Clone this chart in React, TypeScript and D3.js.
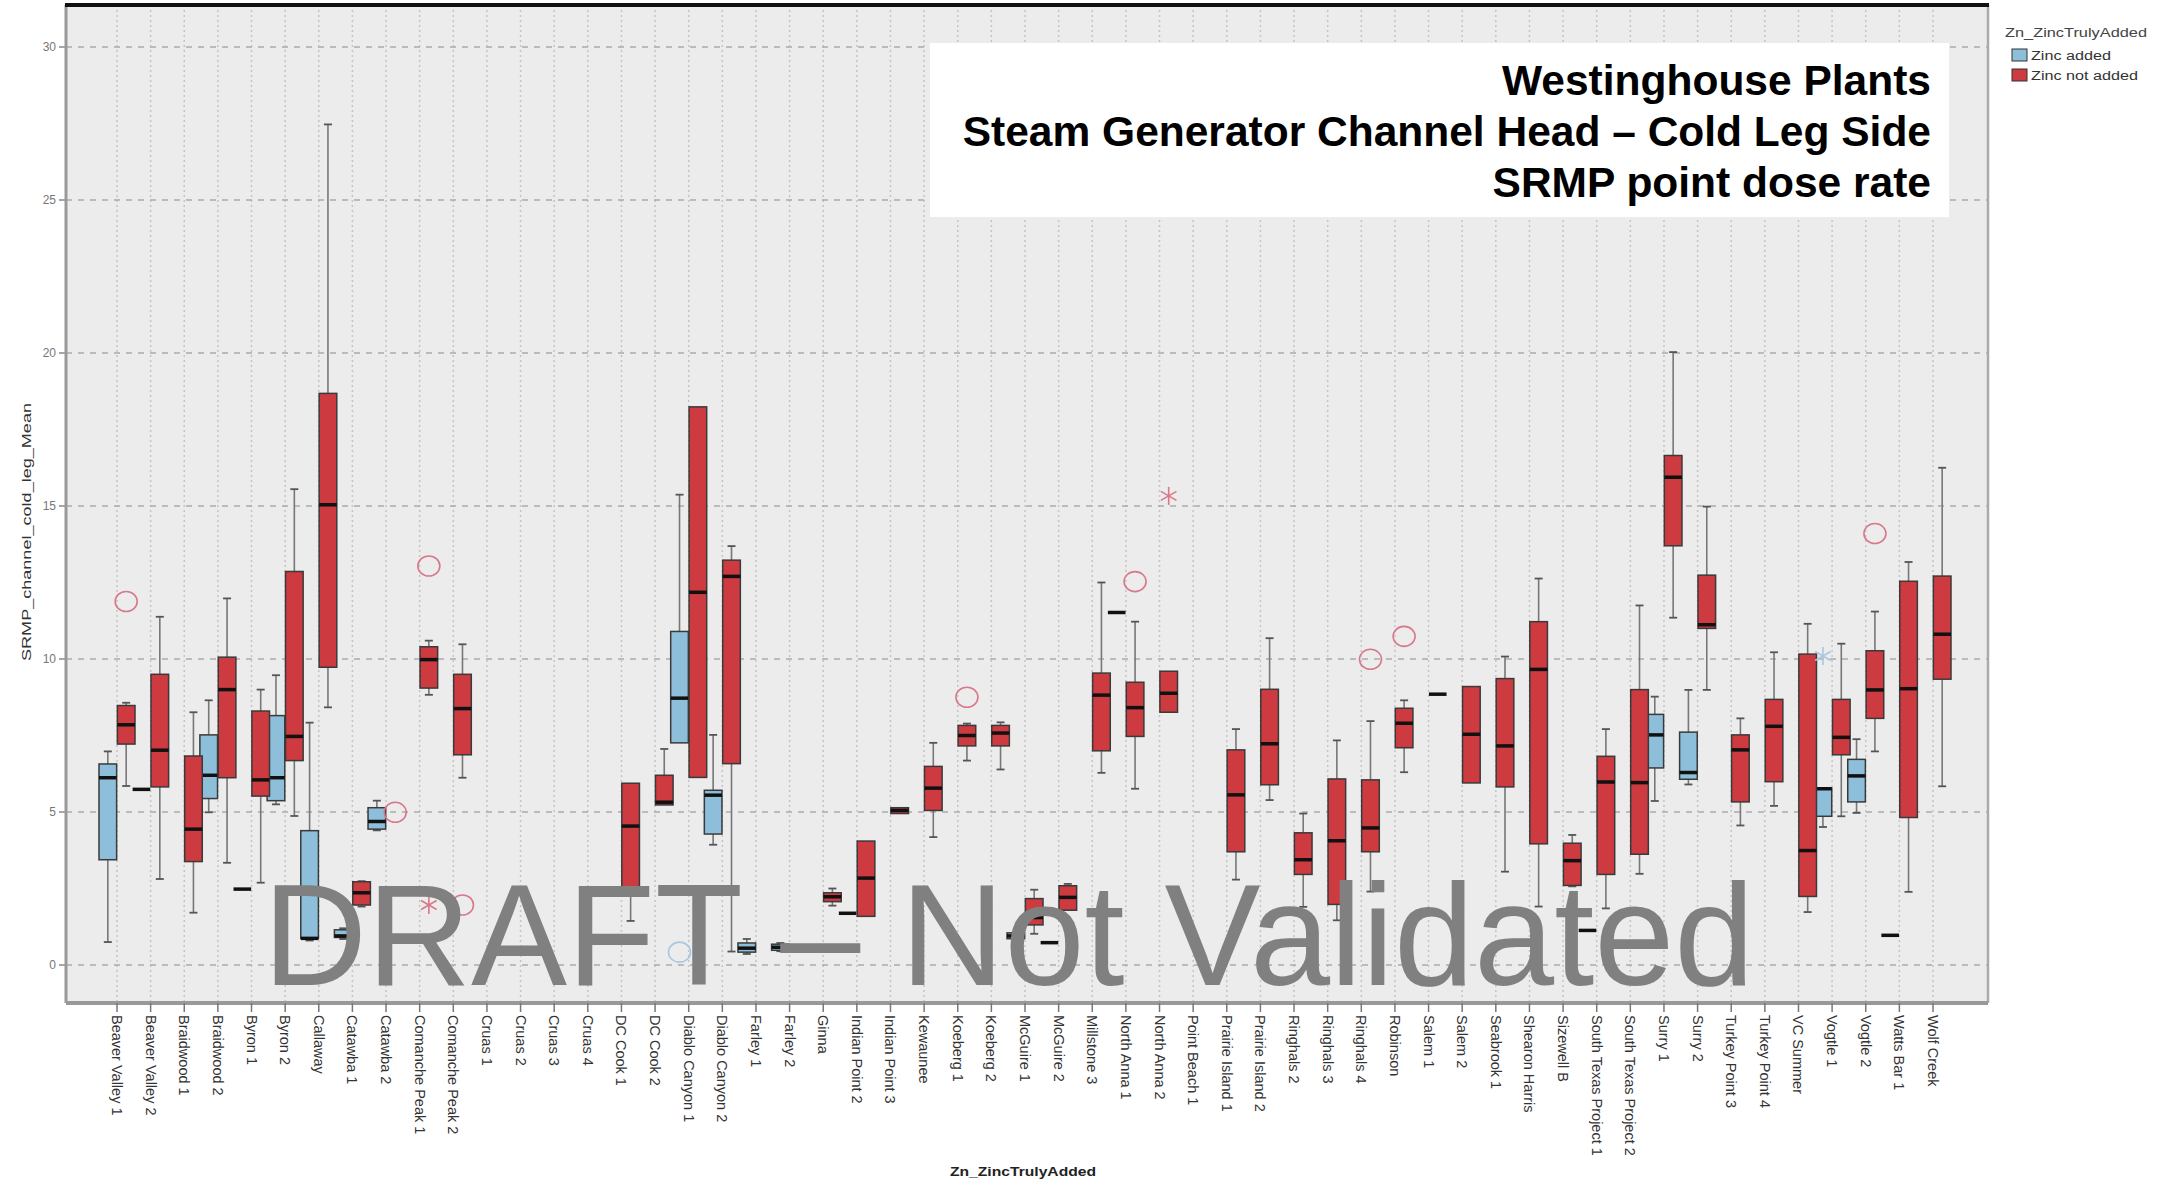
import React from "react";
import { scaleLinear, scalePoint, scaleBand } from "d3";

const plants = [
  "Beaver Valley 1", "Beaver Valley 2", "Braidwood 1", "Braidwood 2", "Byron 1", "Byron 2",
  "Callaway", "Catawba 1", "Catawba 2", "Comanche Peak 1", "Comanche Peak 2", "Cruas 1",
  "Cruas 2", "Cruas 3", "Cruas 4", "DC Cook 1", "DC Cook 2", "Diablo Canyon 1",
  "Diablo Canyon 2", "Farley 1", "Farley 2", "Ginna", "Indian Point 2", "Indian Point 3",
  "Kewaunee", "Koeberg 1", "Koeberg 2", "McGuire 1", "McGuire 2", "Millstone 3",
  "North Anna 1", "North Anna 2", "Point Beach 1", "Prairie Island 1", "Prairie Island 2",
  "Ringhals 2", "Ringhals 3", "Ringhals 4", "Robinson", "Salem 1", "Salem 2", "Seabrook 1",
  "Shearon Harris", "Sizewell B", "South Texas Project 1", "South Texas Project 2",
  "Surry 1", "Surry 2", "Turkey Point 3", "Turkey Point 4", "VC Summer", "Vogtle 1",
  "Vogtle 2", "Watts Bar 1", "Wolf Creek",
];

const groups = ["Zinc added", "Zinc not added"];
const yTicks = [0, 5, 10, 15, 20, 25, 30];

// [whisker low, Q1, median, Q3, whisker high] per plant, null = no data
const zincAdded = [
  [0.75, 3.44, 6.12, 6.57, 6.98], [5.74, 5.74, 5.74, 5.74, 5.74], null,
  [4.99, 5.44, 6.2, 7.52, 8.65], [2.48, 2.48, 2.48, 2.48, 2.48], [5.25, 5.37, 6.12, 8.15, 9.47],
  [0.8, 0.87, 0.87, 4.39, 7.92], [0.85, 0.9, 0.95, 1.15, 1.2], [4.4, 4.44, 4.69, 5.14, 5.37],
  null, null, null, null, null, null, null, null,
  [7.26, 7.26, 8.72, 10.9, 15.37], [3.93, 4.28, 5.55, 5.71, 7.52],
  [0.36, 0.42, 0.55, 0.72, 0.85], [0.45, 0.48, 0.58, 0.68, 0.72], null,
  [1.69, 1.69, 1.69, 1.69, 1.69], null, null, null, null,
  [0.85, 0.86, 0.95, 1.05, 1.06], [0.73, 0.73, 0.73, 0.73, 0.73], null,
  [11.52, 11.52, 11.52, 11.52, 11.52], null, null, null, null, null, null, null, null,
  null, null, null, null, null, [1.13, 1.13, 1.13, 1.13, 1.13], null,
  [5.36, 6.44, 7.52, 8.19, 8.77], [5.9, 6.07, 6.29, 7.61, 8.99], null, null, null,
  [4.51, 4.86, 5.76, 5.79, 5.79], [4.97, 5.33, 6.18, 6.72, 7.38],
  [0.97, 0.97, 0.97, 0.97, 0.97], null,
];

const zincNotAdded = [
  [5.85, 7.22, 7.85, 8.48, 8.57], [2.81, 5.82, 7.02, 9.5, 11.38], [1.71, 3.38, 4.44, 6.83, 8.26],
  [3.34, 6.12, 9.0, 10.06, 11.98], [2.69, 5.52, 6.05, 8.3, 9.0], [4.87, 6.68, 7.47, 12.86, 15.55],
  [8.42, 9.73, 15.04, 18.68, 27.47], [1.91, 1.96, 2.36, 2.72, 2.74], null,
  [8.83, 9.05, 9.98, 10.4, 10.6], [6.12, 6.87, 8.38, 9.5, 10.48], null, null, null, null,
  [1.44, 2.25, 4.54, 5.94, 5.94], [5.23, 5.23, 5.32, 6.2, 7.06],
  [6.13, 6.13, 12.18, 18.24, 18.24], [0.44, 6.58, 12.7, 13.23, 13.69], null, null,
  [1.94, 2.07, 2.23, 2.36, 2.5], [1.59, 1.59, 2.84, 4.05, 4.05], [4.95, 4.95, 5.05, 5.14, 5.14],
  [4.18, 5.05, 5.78, 6.49, 7.26], [6.68, 7.16, 7.5, 7.83, 7.89], [6.39, 7.16, 7.58, 7.83, 7.93],
  [1.02, 1.31, 1.55, 2.17, 2.46], [1.79, 1.79, 2.21, 2.59, 2.65], [6.28, 7.0, 8.82, 9.54, 12.5],
  [5.76, 7.47, 8.41, 9.24, 11.22], [8.26, 8.26, 8.88, 9.6, 9.6], null,
  [2.79, 3.7, 5.56, 7.03, 7.71], [5.39, 5.89, 7.23, 9.01, 10.68],
  [1.9, 2.96, 3.44, 4.32, 4.95], [1.46, 1.98, 4.06, 6.08, 7.34], [2.4, 3.7, 4.48, 6.05, 7.97],
  [6.3, 7.1, 7.9, 8.39, 8.65], [8.85, 8.85, 8.85, 8.85, 8.85], [5.95, 5.95, 7.54, 9.1, 9.1],
  [3.05, 5.82, 7.16, 9.36, 10.08], [1.91, 3.96, 9.66, 11.22, 12.63], [2.57, 2.6, 3.41, 3.98, 4.25],
  [1.85, 2.96, 5.98, 6.82, 7.71], [2.98, 3.62, 5.96, 9.0, 11.75],
  [11.35, 13.7, 15.94, 16.65, 20.03], [8.99, 11.0, 11.12, 12.74, 14.98],
  [4.56, 5.33, 7.03, 7.52, 8.06], [5.2, 5.99, 7.8, 8.68, 10.22], [1.73, 2.24, 3.74, 10.16, 11.15],
  [4.86, 6.87, 7.44, 8.68, 10.5], [6.98, 8.06, 8.99, 10.27, 11.55],
  [2.39, 4.82, 9.03, 12.54, 13.17], [5.84, 9.34, 10.81, 12.71, 16.25],
];

// [plant, group, value, marker]
const outliers = [
  ["Beaver Valley 1", "Zinc not added", 11.88, "o"],
  ["Catawba 2", "Zinc not added", 4.99, "o"],
  ["Comanche Peak 1", "Zinc not added", 13.04, "o"],
  ["Comanche Peak 1", "Zinc not added", 1.96, "*"],
  ["Comanche Peak 2", "Zinc not added", 1.96, "o"],
  ["Diablo Canyon 1", "Zinc added", 0.42, "o"],
  ["Koeberg 1", "Zinc not added", 8.75, "o"],
  ["North Anna 1", "Zinc not added", 12.53, "o"],
  ["North Anna 2", "Zinc not added", 15.33, "*"],
  ["Ringhals 4", "Zinc not added", 9.99, "o"],
  ["Robinson", "Zinc not added", 10.74, "o"],
  ["Vogtle 1", "Zinc added", 10.1, "*"],
  ["Vogtle 2", "Zinc not added", 14.1, "o"],
];

const fills = { "Zinc added": "#8dbfda", "Zinc not added": "#cd3a40" };
const outlierColor = { "Zinc added": "#a9c8e0", "Zinc not added": "#d9788a" };

const plot = { left: 66, right: 1988, top: 5, bottom: 1003 };

export default function App() {
  const x = scalePoint().domain(plants).range([117, 1933]);
  const sub = scaleBand().domain(groups).range([-18, 18]).paddingInner(0.04);
  const y = scaleLinear().domain([0, 30]).range([965, 47]);
  const bw = sub.bandwidth();

  const boxes = [];
  [zincAdded, zincNotAdded].forEach((series, gi) => {
    const g = groups[gi];
    series.forEach((s, i) => {
      if (!s) return;
      const [lo, q1, med, q3, hi] = s;
      const x0 = x(plants[i]) + sub(g);
      const cx = x0 + bw / 2;
      boxes.push(
        <g key={g + i}>
          <line x1={cx} x2={cx} y1={y(hi)} y2={y(q3)} stroke="#777" strokeWidth={1.6} />
          <line x1={cx} x2={cx} y1={y(q1)} y2={y(lo)} stroke="#777" strokeWidth={1.6} />
          {hi > q3 && <line x1={cx - 4} x2={cx + 4} y1={y(hi)} y2={y(hi)} stroke="#555" strokeWidth={1.8} />}
          {lo < q1 && <line x1={cx - 4} x2={cx + 4} y1={y(lo)} y2={y(lo)} stroke="#555" strokeWidth={1.8} />}
          <rect x={x0} y={y(q3)} width={bw} height={y(q1) - y(q3)} fill={fills[g]} stroke="#3a3a3a" strokeWidth={1.5} />
          <line x1={x0} x2={x0 + bw} y1={y(med)} y2={y(med)} stroke="#111" strokeWidth={3.5} />
        </g>
      );
    });
  });

  const marks = outliers.map(([p, g, v, m], i) => {
    const cx = x(p) + sub(g) + bw / 2;
    const cy = y(v);
    const c = outlierColor[g];
    if (m === "o") return <ellipse key={"o" + i} cx={cx} cy={cy} rx={11} ry={10} fill="none" stroke={c} strokeWidth={1.6} />;
    return (
      <g key={"o" + i} stroke={c} strokeWidth={1.6}>
        {[90, 30, 150].map(a => {
          const r = (a * Math.PI) / 180;
          return <line key={a} x1={cx - 9 * Math.cos(r)} x2={cx + 9 * Math.cos(r)} y1={cy - 9 * Math.sin(r)} y2={cy + 9 * Math.sin(r)} />;
        })}
      </g>
    );
  });

  return (
    <svg width={2175} height={1180} style={{ position: "absolute", left: 0, top: 0, display: "block", background: "#fff" }}
      fontFamily="Liberation Sans, Arial, sans-serif">
      <rect x={plot.left} y={plot.top} width={plot.right - plot.left} height={plot.bottom - plot.top} fill="#ececec" />
      {plants.map(p => (
        <line key={p} x1={x(p)} x2={x(p)} y1={plot.top} y2={plot.bottom} stroke="#c4c4c4" strokeWidth={1.5} strokeDasharray="2 3" />
      ))}
      {yTicks.map(t => (
        <g key={t}>
          <line x1={plot.left} x2={plot.right} y1={y(t)} y2={y(t)} stroke="#aaa" strokeWidth={1.5} strokeDasharray="6 6" />
          <line x1={59} x2={plot.left} y1={y(t)} y2={y(t)} stroke="#888" strokeWidth={1.5} />
          <text x={56} y={y(t) + 4} textAnchor="end" fontSize={12} fill="#777">{t}</text>
        </g>
      ))}
      {boxes}
      {marks}
      <line x1={plot.left} x2={plot.left} y1={plot.top} y2={plot.bottom} stroke="#999" strokeWidth={3} />
      <line x1={plot.right} x2={plot.right} y1={plot.top} y2={plot.bottom} stroke="#aaa" strokeWidth={2.5} />
      <line x1={plot.left} x2={plot.right} y1={plot.bottom} y2={plot.bottom} stroke="#999" strokeWidth={4} />
      <line x1={plot.left - 1} x2={plot.right + 1} y1={plot.top} y2={plot.top} stroke="#111" strokeWidth={4} />
      {plants.map(p => (
        <g key={"t" + p}>
          <line x1={x(p)} x2={x(p)} y1={plot.bottom} y2={1012} stroke="#777" strokeWidth={1.5} />
          <text transform={`translate(${x(p) - 5},1015) rotate(90)`} fontSize={14.5} fill="#333">{p}</text>
        </g>
      ))}
      <text transform="translate(31,532) rotate(-90)" textAnchor="middle" fontSize={13} fill="#333"
        textLength={258} lengthAdjust="spacingAndGlyphs">SRMP_channel_cold_leg_Mean</text>
      <text x={1023} y={1176} textAnchor="middle" fontSize={13} fontWeight="bold" fill="#222"
        textLength={146} lengthAdjust="spacingAndGlyphs">Zn_ZincTrulyAdded</text>

      <text x={2005} y={37} fontSize={12} fill="#444" textLength={142} lengthAdjust="spacingAndGlyphs">Zn_ZincTrulyAdded</text>
      {groups.map((g, i) => (
        <g key={g}>
          <rect x={2012} y={49 + i * 20} width={15} height={12} fill={fills[g]} stroke="#333" strokeWidth={1} />
          <text x={2031} y={60 + i * 20} fontSize={12.5} fill="#333" textLength={i ? 107 : 80}
            lengthAdjust="spacingAndGlyphs">{g}</text>
        </g>
      ))}

      <rect x={930} y={43} width={1019} height={174} fill="#fff" />
      <g fontSize={42.5} fontWeight="bold" fill="#000" textAnchor="end">
        <text x={1931} y={95}>Westinghouse Plants</text>
        <text x={1931} y={146}>Steam Generator Channel Head – Cold Leg Side</text>
        <text x={1931} y={197}>SRMP point dose rate</text>
      </g>

      <text x={263} y={985} fontSize={144} fill="#808080">DRAFT – Not Validated</text>
    </svg>
  );
}
